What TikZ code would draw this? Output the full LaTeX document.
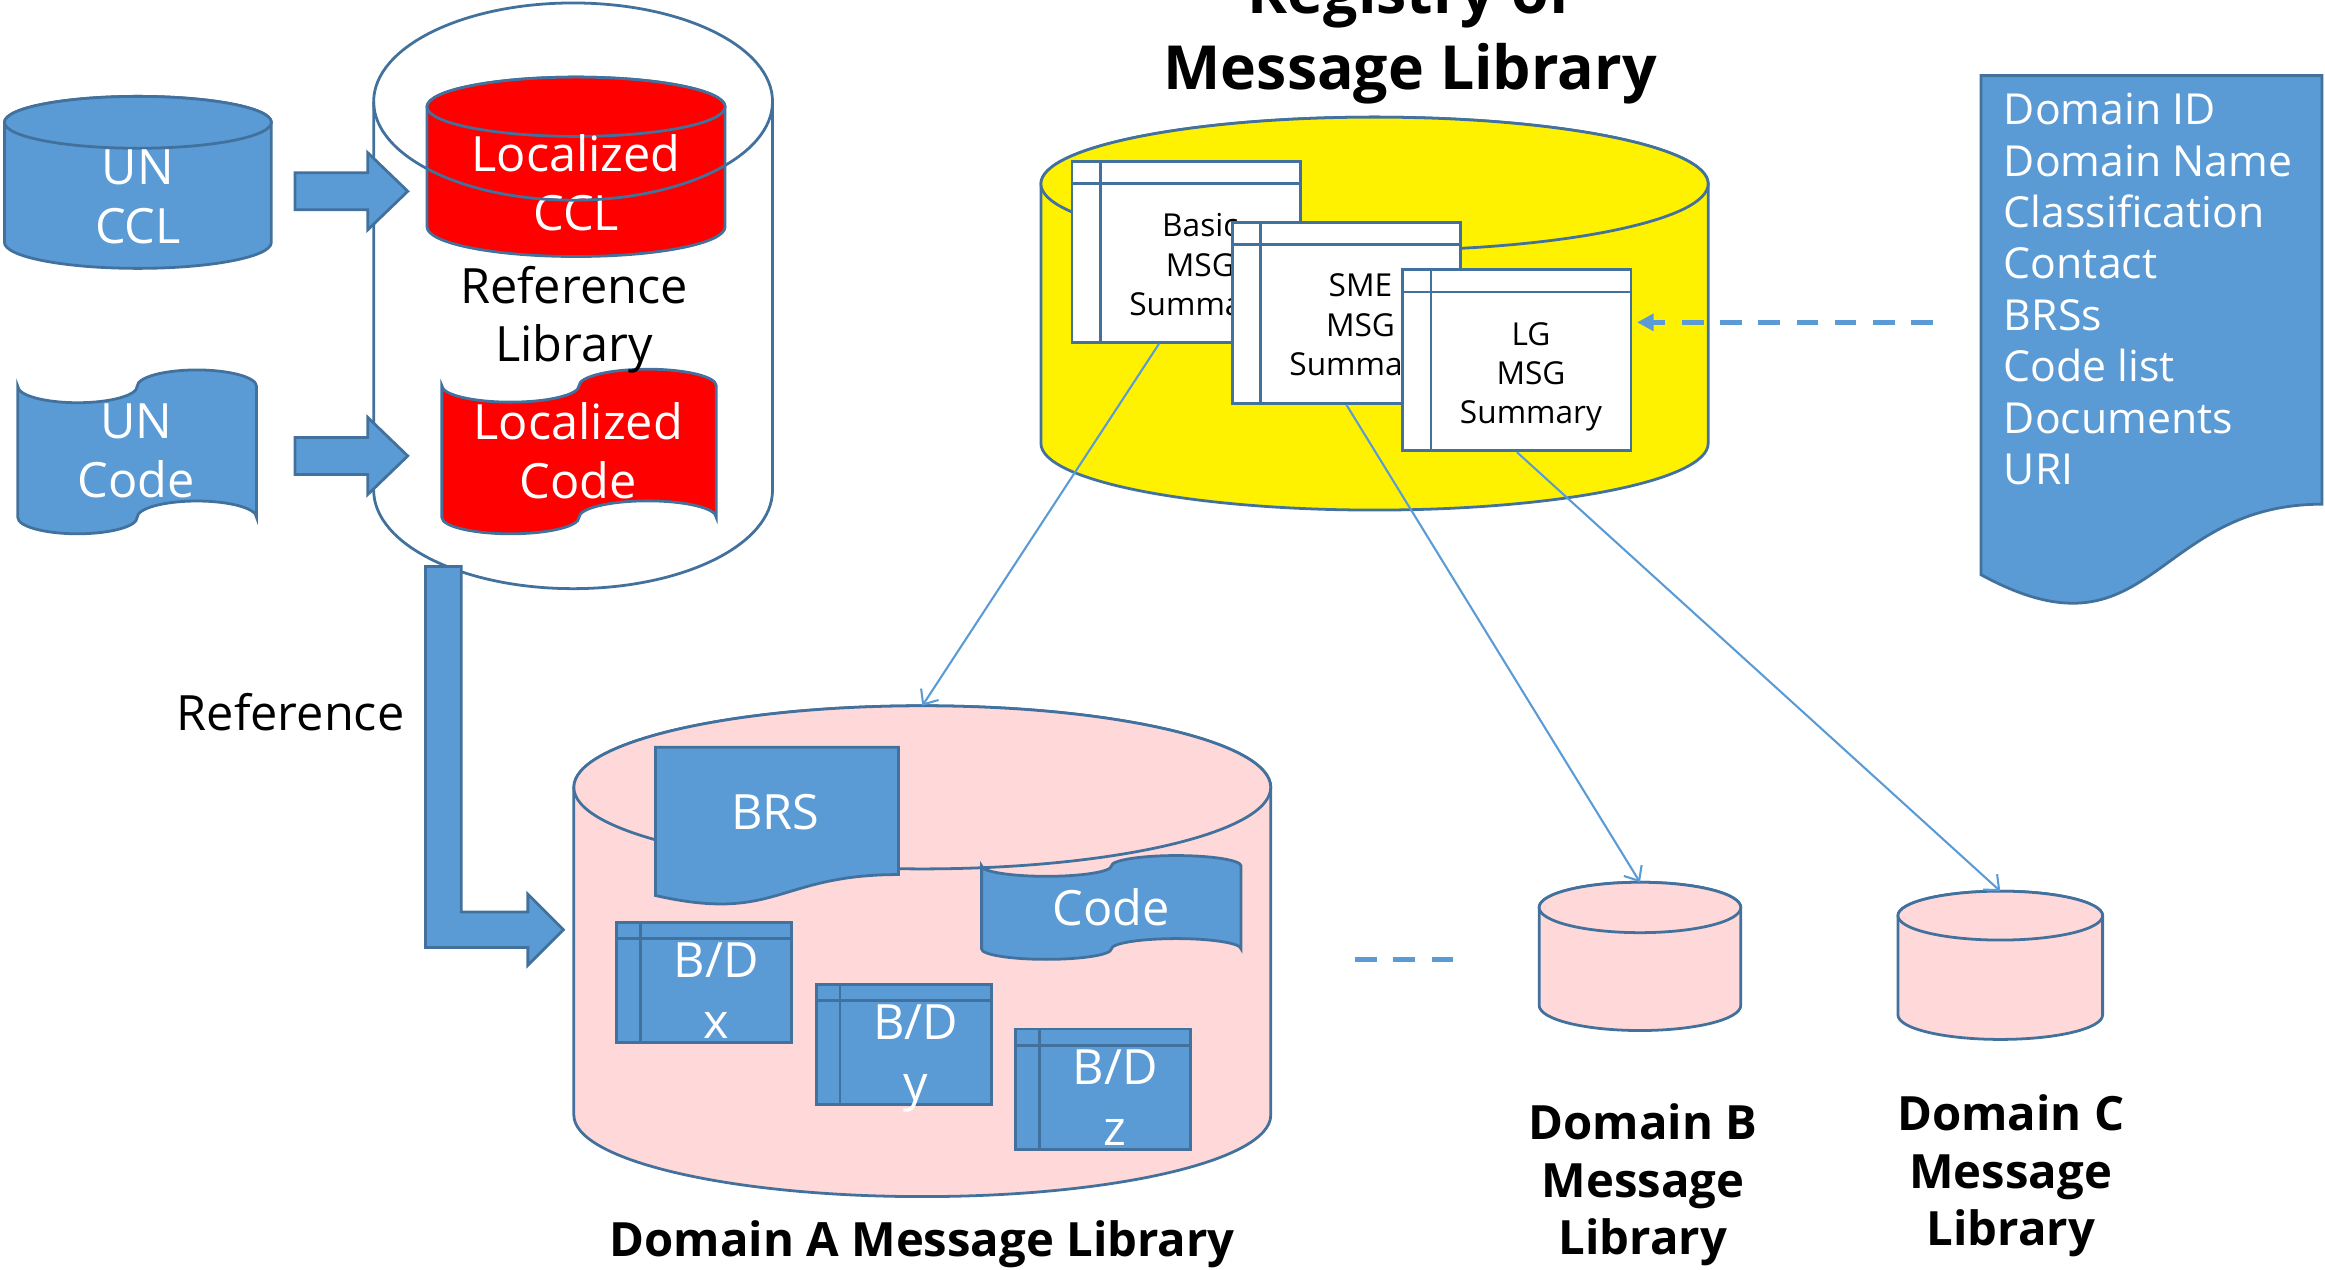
\documentclass[tikz,border=0pt]{standalone}
\usepackage{fontspec}
\setmainfont{Open Sans}
\usetikzlibrary{arrows.meta,calc}

\definecolor{msblue}{HTML}{5B9BD5}
\definecolor{msline}{HTML}{41719C}
\definecolor{dompink}{HTML}{FFD9D9}

\tikzset{
	outline/.style={draw=msline,line width=0.8pt},
	bluefill/.style={outline,fill=msblue},
	redfill/.style={outline,fill=red},
	yellowfill/.style={outline,fill=yellow},
	pinkfill/.style={outline,fill=dompink},
	whitetxt/.style={text=white,align=center,inner sep=0pt,font=\fontsize{14pt}{17pt}\selectfont},
	bdtxt/.style={whitetxt,font=\fontsize{14pt}{17.5pt}\selectfont},
	blacktxt/.style={align=center,inner sep=0pt,font=\fontsize{14pt}{16.6pt}\selectfont},
	titletxt/.style={align=center,inner sep=0pt,font=\bfseries\fontsize{13.6pt}{16.6pt}\selectfont},
	bigtitle/.style={anchor=base,inner sep=0pt,font=\bfseries\fontsize{17.5pt}{22pt}\selectfont},
	wintxt/.style={align=center,inner sep=0pt,font=\fontsize{9.1pt}{11.3pt}\selectfont},
	listtxt/.style={text=white,align=left,inner sep=0pt,font=\fontsize{12.3pt}{14.8pt}\selectfont},
	winframe/.style n args={4}{outline,minimum width=#1,minimum height=#2,inner sep=0pt,
		path picture={
			\draw[msline,line width=0.8pt] ([yshift=-#3]path picture bounding box.north west) -- ([yshift=-#3]path picture bounding box.north east);
			\draw[msline,line width=0.8pt] ([xshift=#4]path picture bounding box.north west) -- ([xshift=#4]path picture bounding box.south west);
		}},
	winbox/.style={winframe={2.31cm}{1.83cm}{0.225cm}{0.285cm},fill=white},
	bdbox/.style={winframe={1.77cm}{1.215cm}{0.165cm}{0.24cm},fill=msblue},
	link/.style={msblue,line width=0.6pt,-{Straight Barb[length=3.5pt,width=6pt]}},
	dashlink/.style={msblue,line width=1.6pt,dash pattern=on 6.2pt off 4.8pt},
}

% cylinder: style, centre x, half width, top y, bottom y, end radius
\newcommand{\dbcyl}[6]{%
	\path[#1] ({#2-#3},#4) -- ({#2-#3},#5) arc[start angle=180,end angle=360,x radius=#3,y radius=#6]
		-- ({#2+#3},#4) arc[start angle=0,end angle=180,x radius=#3,y radius=#6] -- cycle;
	\path[#1] (#2,#4) ellipse[x radius=#3,y radius=#6];}
% punched tape: style, left x, width, top y, height
\newcommand{\tapeshape}[5]{%
	\path[#1] (#2,{#4-0.1*#5})
		arc[start angle=180,end angle=360,x radius={#3/4},y radius={0.1*#5}]
		arc[start angle=180,end angle=0,x radius={#3/4},y radius={0.1*#5}]
		-- ({#2+#3},{#4-0.9*#5})
		arc[start angle=0,end angle=180,x radius={#3/4},y radius={0.1*#5}]
		arc[start angle=0,end angle=-180,x radius={#3/4},y radius={0.1*#5}]
		-- cycle;}
% document: style, left x, width, top y, height
\newcommand{\docshape}[5]{%
	\path[#1] (#2,#4) -- ({#2+#3},#4) -- ({#2+#3},{#4-0.802*#5})
		.. controls ({#2+0.5*#3},{#4-0.802*#5}) and ({#2+0.5*#3},{#4-1.1075*#5}) .. (#2,{#4-0.934*#5}) -- cycle;}

\begin{document}
\begin{tikzpicture}[x=0.015cm,y=0.015cm]
	\useasboundingbox (0,0) rectangle (1568,-856);

	\dbcyl{bluefill}{93}{90}{-82.5}{-163.5}{17.5}
	\node (unccl) at (93,-132.5)[whitetxt]{UN\\CCL};
	\tapeshape{bluefill}{12}{161}{-249.5}{110.5}
	\node (uncode) at (92,-304)[whitetxt]{UN\\Code};

	\draw[outline] (252,-68.5) -- (252,-330.5) arc[start angle=180,end angle=360,x radius=134.5,y radius=66.5] -- (521,-68.5);
	\dbcyl{redfill}{388.5}{100.5}{-72}{-153}{20}
	\node (locccl) at (388.5,-123)[whitetxt]{Localized\\CCL};
	\tapeshape{redfill}{298}{185}{-249}{111}
	\node (loccode) at (390,-304)[whitetxt]{Localized\\Code};
	\draw[outline] (386.5,-68.5) ellipse[x radius=134.5,y radius=66.5];
	\node (reflib) at (387,-215.5)[blacktxt]{Reference\\Library};

	\draw[bluefill] (199,-116.5) -- (248,-116.5) -- (248,-103) -- (275,-129) -- (248,-155) -- (248,-141.5) -- (199,-141.5) -- cycle;
	\draw[bluefill] (199,-295) -- (248,-295) -- (248,-281.5) -- (275,-307.5) -- (248,-333.5) -- (248,-320) -- (199,-320) -- cycle;

	\draw[bluefill] (287,-382) -- (311,-382) -- (311,-615) -- (356,-615) -- (356,-603) -- (380,-627) -- (356,-651) -- (356,-639) -- (287,-639) -- cycle;
	\node (reflabel) at (196,-480)[blacktxt]{Reference};

	\node (regtitle) at (951,-9)[bigtitle]{Registry of};
	\node (msgtitle) at (951,-60.7)[bigtitle]{Message Library};

	\dbcyl{yellowfill}{927}{225}{-124}{-299}{45}
	\node (basic) at (800,-170)[winbox]{};
	\node (basictxt) at (809.5,-181)[wintxt]{Basic\\MSG\\Summary};
	\node (sme) at (908,-211)[winbox]{};
	\node (smetxt) at (917.5,-221.5)[wintxt]{SME\\MSG\\Summary};
	\node (lg) at (1023,-243)[winbox]{};
	\node (lgtxt) at (1032.5,-254)[wintxt]{LG\\MSG\\Summary};

	\docshape{bluefill}{1336}{230}{-51}{360.4}
	\node (domlist) at (1351,-195)[listtxt,anchor=west]{Domain ID\\Domain Name\\Classification\\Contact\\BRSs\\Code list\\Documents\\URI};
	\coordinate (listsrc) at (1303.5,-217.4);
	\coordinate (lgin) at (1104,-217.4);
	\draw[dashlink,-{Triangle[length=4.8pt,width=4.8pt]}] (listsrc) -- (lgin);

	\dbcyl{pinkfill}{622}{235}{-531}{-752}{55}
	\docshape{bluefill}{442}{164}{-504}{107}
	\node (brs) at (523,-548)[whitetxt]{BRS};
	\tapeshape{bluefill}{662}{175}{-577}{70}
	\node (code) at (749.5,-612)[whitetxt]{Code};
	\node (bdx) at (475,-662.5)[bdbox]{};
	\node (bdxtxt) at (483,-668)[bdtxt]{B/D\\x};
	\node (bdy) at (609.5,-704.5)[bdbox]{};
	\node (bdytxt) at (617.5,-714)[bdtxt]{B/D\\y};
	\node (bdz) at (744,-734.5)[bdbox]{};
	\node (bdztxt) at (752,-740)[bdtxt]{B/D\\z};
	\node (domA) at (622,-839)[titletxt]{Domain A Message Library};

	\dbcyl{pinkfill}{1106}{68}{-612}{-678}{17}
	\dbcyl{pinkfill}{1349}{69}{-617.5}{-684.5}{16.5}
	\node (domB) at (1108,-799)[titletxt]{Domain B\\Message\\Library};
	\node (domC) at (1356,-793)[titletxt]{Domain C\\Message\\Library};

	\coordinate (moreL) at (914,-647);
	\coordinate (moreR) at (980,-647);
	\draw[dashlink] (moreL) -- (moreR);

	\coordinate (domAtop) at (622,-476);
	\coordinate (domBtop) at (1106,-595);
	\coordinate (domCtop) at (1349,-601);
	\draw[link] ($(basic.south)+(-18.4,0)$) -- (domAtop);
	\draw[link] (sme.south) -- (domBtop);
	\draw[link] (lg.south) -- (domCtop);
\end{tikzpicture}
\end{document}
